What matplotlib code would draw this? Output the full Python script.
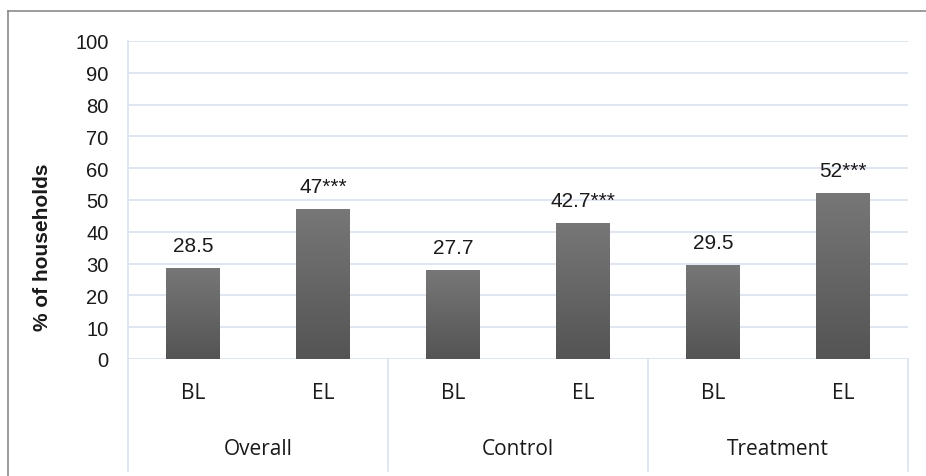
import numpy as np
import matplotlib
matplotlib.use("Agg")
import matplotlib.pyplot as plt
from matplotlib.lines import Line2D
from matplotlib.colors import LinearSegmentedColormap

# Data
groups = ["Overall", "Control", "Treatment"]
rounds = ["BL", "EL"]
values = [28.5, 47.0, 27.7, 42.7, 29.5, 52.0]
value_text = ["28.5", "47", "27.7", "42.7", "29.5", "52"]
stars = ["", "***", "", "***", "", "***"]
yticks = [0, 10, 20, 30, 40, 50, 60, 70, 80, 90, 100]
ylabel = "% of households"

W, H = 926, 477
fig = plt.figure(figsize=(W / 100, H / 100), dpi=100)

# Plot box in pixel units
left_px, right_px, top_px, zero_px, bottom_px = 128, 908, 42, 360, 472
ax = fig.add_axes([left_px / W, (H - zero_px) / H,
                   (right_px - left_px) / W, (zero_px - top_px) / H])

grid_c = "#d9e2ee"
num_font = "Liberation Sans"
cat_font = "Open Sans"
txt_c = "#1a1a1a"

n = len(values)
x = np.arange(n)
bar_w = 0.41

ax.set_xlim(-0.5, n - 0.5)
ax.set_ylim(0, 100)

# Horizontal gridlines
for t in yticks:
    ax.axhline(t, color=grid_c, lw=1.2, zorder=0)

# Gradient-filled bars
cmap = LinearSegmentedColormap.from_list("bar", ["#545454", "#777777"])
grad = np.linspace(0, 1, 256).reshape(-1, 1)
bars = ax.bar(x, values, width=bar_w, color="none", edgecolor="none", zorder=2)
for b in bars:
    x0, y0 = b.get_x(), b.get_y()
    ax.imshow(grad, extent=[x0, x0 + b.get_width(), y0, y0 + b.get_height()],
              origin="lower", aspect="auto", cmap=cmap, zorder=2)
ax.set_xlim(-0.5, n - 0.5)
ax.set_ylim(0, 100)

# Value labels
lab_off = 23 * 100 / (zero_px - top_px)
for xi, v, vt, s in zip(x, values, value_text, stars):
    ax.text(xi, v + lab_off, vt + s, ha="center", va="center",
            fontsize=15, family=num_font, color=txt_c)

# Axes styling
for sp in ax.spines.values():
    sp.set_visible(False)
ax.set_xticks([])
ax.set_yticks(yticks)
ax.set_yticklabels([str(t) for t in yticks], family=num_font, fontsize=14.5,
                   color=txt_c)
ax.tick_params(axis="y", length=0, pad=14)

# Category axis frame below the plot
trans = ax.get_xaxis_transform()
depth = -(bottom_px - zero_px) / (zero_px - top_px)
ax.plot([-0.5, -0.5], [depth, 1.0], transform=trans, color=grid_c, lw=1.2,
        clip_on=False, zorder=1)
for sep in [1.5, 3.5, 5.5]:
    ax.plot([sep, sep], [depth, 0], transform=trans, color=grid_c, lw=1.2,
            clip_on=False, zorder=1)

# Category labels
y_round = -(394 - zero_px) / (zero_px - top_px)
y_group = -(450 - zero_px) / (zero_px - top_px)
for gi, g in enumerate(groups):
    for ri, r in enumerate(rounds):
        ax.text(gi * 2 + ri, y_round, r, transform=trans, ha="center",
                va="center", fontsize=15, family=cat_font, color=txt_c)
    ax.text(gi * 2 + 0.5, y_group, g, transform=trans, ha="center",
            va="center", fontsize=15, family=cat_font, color=txt_c)

# Y axis title
fig.text(43 / W, 1 - 247 / H, ylabel, rotation=90, ha="center", va="center",
         fontsize=15, fontweight="bold", family=num_font, color=txt_c)

# Outer frame (top and left edges)
frame_c = "#8a8a8a"
fig.add_artist(Line2D([8 / W, 1.0], [1 - 12 / H, 1 - 12 / H],
                      transform=fig.transFigure, color=frame_c, lw=1.2))
fig.add_artist(Line2D([8 / W, 8 / W], [0.0, 1 - 12 / H],
                      transform=fig.transFigure, color=frame_c, lw=1.2))

fig.savefig("out.png", dpi=100)
